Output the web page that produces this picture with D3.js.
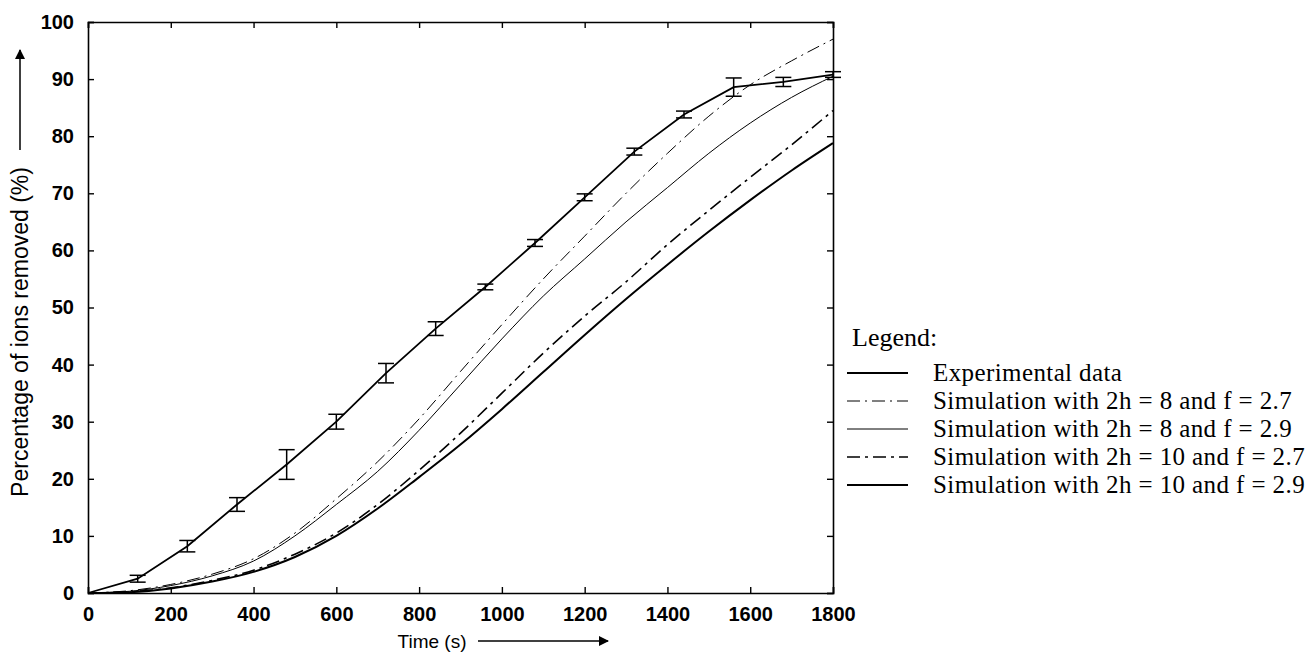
<!DOCTYPE html>
<html>
<head>
<meta charset="utf-8">
<script src="https://cdn.jsdelivr.net/npm/d3@7"></script>
<style>
  body { margin: 0; background: #fff; }
  svg { display: block; }
</style>
</head>
<body>
<svg id="chart" width="1316" height="652"></svg>
<script>
// Axis ticks
const timeTicks = [0, 200, 400, 600, 800, 1000, 1200, 1400, 1600, 1800];
const pctTicks = [0, 10, 20, 30, 40, 50, 60, 70, 80, 90, 100];

// Experimental data: mean removal and error half-width
const expTime = [0, 120, 240, 360, 480, 600, 720, 840, 960, 1080, 1200, 1320, 1440, 1560, 1680, 1800];
const expMean = [0, 2.5, 8.2, 15.5, 22.5, 30.0, 38.5, 46.3, 53.6, 61.3, 69.3, 77.3, 83.8, 88.6, 89.5, 90.8];
const expErr  = [0, 0.6, 1.0, 1.2, 2.6, 1.3, 1.7, 1.2, 0.5, 0.6, 0.6, 0.6, 0.6, 1.6, 0.8, 0.5];

// Simulated removal curves
const simTime  = [0, 100, 200, 300, 400, 500, 600, 700, 800, 900, 1000, 1100, 1200, 1300, 1400, 1500, 1600, 1700, 1800];
const sim8f27  = [0, 0.4, 1.5, 3.3, 6.0, 10.5, 16.5, 23.0, 30.5, 38.8, 47.0, 55.0, 62.5, 70.0, 77.0, 83.5, 89.0, 93.2, 97.0];
const sim8f29  = [0, 0.3, 1.3, 3.0, 5.6, 10.0, 15.5, 21.3, 28.5, 36.5, 44.5, 52.0, 58.5, 65.0, 71.0, 77.0, 82.3, 86.8, 90.5];
const sim10f27 = [0, 0.2, 0.9, 2.2, 4.0, 6.8, 10.5, 15.5, 21.5, 28.0, 35.0, 42.0, 48.5, 54.5, 61.0, 67.0, 72.8, 78.5, 84.5];
const sim10f29 = [0, 0.15, 0.8, 2.0, 3.7, 6.3, 10.0, 14.8, 20.3, 26.0, 32.2, 38.7, 45.2, 51.5, 57.5, 63.3, 68.8, 74.0, 78.8];

const legendLabels = [
  "Experimental data",
  "Simulation with 2h = 8 and f = 2.7",
  "Simulation with 2h = 8 and f = 2.9",
  "Simulation with 2h = 10 and f = 2.7",
  "Simulation with 2h = 10 and f = 2.9"
];

const styles = [
  { width: 1.8, dash: null },
  { width: 1.0, dash: "13,5,2,5" },
  { width: 1.0, dash: null },
  { width: 1.6, dash: "13,5,3,5" },
  { width: 2.0, dash: null }
];

const svg = d3.select("#chart");
const plotL = 88, plotR = 833, plotT = 22, plotB = 593;

const x = d3.scaleLinear().domain([0, 1800]).range([plotL, plotR]);
const y = d3.scaleLinear().domain([0, 100]).range([plotB, plotT]);

const sansFont = "'Liberation Sans', Arial, sans-serif";
const serifFont = "'Liberation Serif', 'Times New Roman', serif";

// Axes with inward ticks on all four sides
const gB = svg.append("g").attr("transform", `translate(0,${plotB})`)
  .call(d3.axisBottom(x).tickValues(timeTicks).tickSize(-6).tickPadding(14).tickFormat(d3.format("d")));
const gT = svg.append("g").attr("transform", `translate(0,${plotT})`)
  .call(d3.axisTop(x).tickValues(timeTicks).tickSize(-6).tickFormat(""));
const gL = svg.append("g").attr("transform", `translate(${plotL},0)`)
  .call(d3.axisLeft(y).tickValues(pctTicks).tickSize(-6).tickPadding(14).tickFormat(d3.format("d")));
const gR = svg.append("g").attr("transform", `translate(${plotR},0)`)
  .call(d3.axisRight(y).tickValues(pctTicks).tickSize(-6).tickFormat(""));

[gB, gT, gL, gR].forEach(g => {
  g.select(".domain").attr("stroke", "#000").attr("stroke-width", 1.6);
  g.selectAll(".tick line").attr("stroke", "#000").attr("stroke-width", 1.4);
  g.selectAll(".tick text").attr("fill", "#000")
    .style("font-family", sansFont).style("font-size", "20px").style("font-weight", "bold");
});

// Simulated curves
const simSeries = [sim8f27, sim8f29, sim10f27, sim10f29];
const line = d3.line().x(d => x(d[0])).y(d => y(d[1])).curve(d3.curveMonotoneX);
simSeries.forEach((vals, i) => {
  const st = styles[i + 1];
  svg.append("path")
    .datum(simTime.map((t, k) => [t, vals[k]]))
    .attr("fill", "none")
    .attr("stroke", "#000")
    .attr("stroke-width", st.width)
    .attr("stroke-dasharray", st.dash)
    .attr("d", line);
});

// Experimental polyline
const expLine = d3.line().x(d => x(d[0])).y(d => y(d[1]));
svg.append("path")
  .datum(expTime.map((t, k) => [t, expMean[k]]))
  .attr("fill", "none").attr("stroke", "#000").attr("stroke-width", styles[0].width)
  .attr("d", expLine);

// Error bars
const eb = svg.append("g").attr("stroke", "#000").attr("stroke-width", 1.5);
expTime.forEach((t, k) => {
  if (expErr[k] <= 0) return;
  const cx = x(t), y1 = y(expMean[k] - expErr[k]), y2 = y(expMean[k] + expErr[k]);
  eb.append("line").attr("x1", cx).attr("x2", cx).attr("y1", y1).attr("y2", y2);
  eb.append("line").attr("x1", cx - 8).attr("x2", cx + 8).attr("y1", y1).attr("y2", y1);
  eb.append("line").attr("x1", cx - 8).attr("x2", cx + 8).attr("y1", y2).attr("y2", y2);
});

// Axis titles with arrows
svg.append("defs").append("marker")
  .attr("id", "arrowhead").attr("viewBox", "0 0 10 10")
  .attr("refX", 9).attr("refY", 5).attr("markerWidth", 10).attr("markerHeight", 10)
  .attr("markerUnits", "userSpaceOnUse").attr("orient", "auto")
  .append("path").attr("d", "M0,0 L10,5 L0,10 z").attr("fill", "#000");

svg.append("text")
  .attr("transform", "translate(28,332) rotate(-90)")
  .attr("text-anchor", "middle")
  .style("font-family", sansFont).style("font-size", "23px")
  .text("Percentage of ions removed (%)");
svg.append("line").attr("x1", 20).attr("x2", 20).attr("y1", 150).attr("y2", 50)
  .attr("stroke", "#000").attr("stroke-width", 1.5).attr("marker-end", "url(#arrowhead)");

svg.append("text")
  .attr("x", 432).attr("y", 648)
  .attr("text-anchor", "middle")
  .style("font-family", sansFont).style("font-size", "19px")
  .text("Time (s)");
svg.append("line").attr("x1", 478).attr("x2", 608).attr("y1", 641).attr("y2", 641)
  .attr("stroke", "#000").attr("stroke-width", 1.5).attr("marker-end", "url(#arrowhead)");

// Legend
const lg = svg.append("g");
lg.append("text").attr("x", 852).attr("y", 346)
  .style("font-family", serifFont).style("font-size", "26px").text("Legend:");
legendLabels.forEach((lab, i) => {
  const ly = 373 + i * 28;
  const st = styles[i];
  lg.append("line").attr("x1", 847).attr("x2", 908).attr("y1", ly).attr("y2", ly)
    .attr("stroke", "#000").attr("stroke-width", st.width).attr("stroke-dasharray", st.dash);
  lg.append("text").attr("x", 933).attr("y", ly + 8)
    .style("font-family", serifFont).style("font-size", "25px").style("letter-spacing", "0.4px")
    .text(lab);
});
</script>
</body>
</html>
